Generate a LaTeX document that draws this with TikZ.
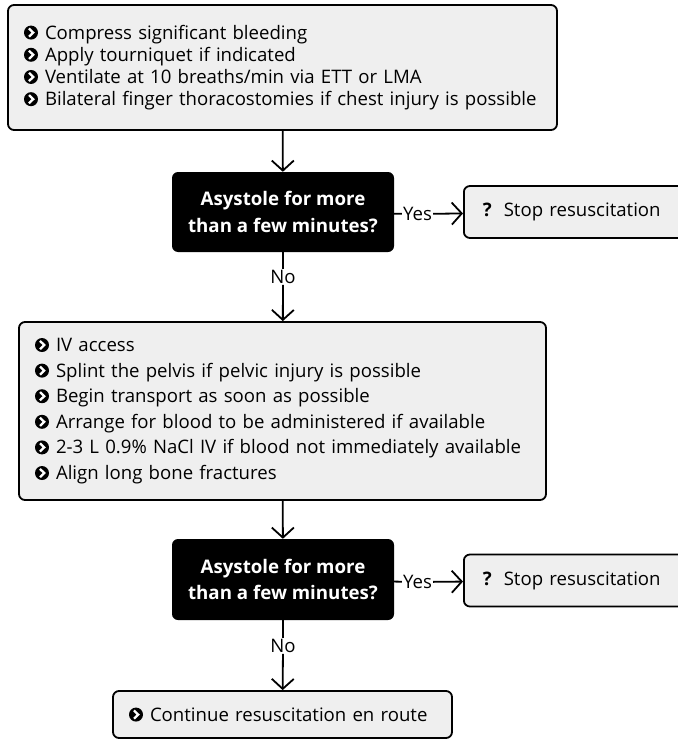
\documentclass[tikz,border=0pt]{standalone}
\usepackage{fontspec}
\setmainfont{Open Sans}
\usetikzlibrary{arrows.meta}
\definecolor{FCFill}{HTML}{EFEFEF}
\newcommand{\fcbullet}{\tikz[baseline=-6.5pt,sharp corners]{\fill[black] (0pt,0pt) circle[radius=7pt];
  \draw[white,line width=2.3pt,line join=miter] (-2pt,4.1pt) -- (2.2pt,0pt) -- (-2pt,-4.1pt);}\hspace{7pt}}

\tikzset{
  carebox/.style={draw=black,line width=1.8pt,fill=FCFill,rounded corners=6pt,align=left,
    inner xsep=16pt,inner ysep=0pt,font=\fontsize{18.6}{22.2}\selectfont},
  askbox/.style={fill=black,rounded corners=6pt,text=white,align=center,inner sep=0pt,
    minimum width=222pt,font=\fontsize{18.7}{26.5}\selectfont\bfseries},
  stopbox/.style={carebox,anchor=west,minimum width=227pt,minimum height=52pt,text width=189pt,inner xsep=19pt},
  flow/.style={line width=1.8pt,-{Straight Barb[length=10pt,width=22pt,line width=1.8pt]}},
  link/.style={line width=1.8pt},
  lbl/.style={inner sep=1pt,font=\fontsize{18.6}{20}\selectfont}
}

\begin{document}
\begin{tikzpicture}[x=1pt,y=-1pt]
\path[use as bounding box] (0,0) rectangle (677,741);
\fill[white] (0,0) rectangle (677,741);
\node[carebox,minimum width=549pt,minimum height=125pt,text width=517pt] (care1) at (282.5,67.5)
  {\fcbullet Compress significant bleeding\\
   \fcbullet Apply tourniquet if indicated\\
   \fcbullet Ventilate at 10 breaths/min via ETT or LMA\\
   \fcbullet Bilateral finger thoracostomies if chest injury is possible};
\node[askbox,minimum height=80pt] (ask1) at (283,212) {Asystole for more\\than a few minutes?};
\node[stopbox] (stop1) at (463,212) {\textbf{?}\hspace{12pt}Stop resuscitation};
\node[lbl] (yes1) at (417.5,214) {Yes};
\node[lbl] (no1) at (283,277) {No};
\node[carebox,minimum width=527pt,minimum height=178pt,text width=495pt,font=\fontsize{18.6}{25.6}\selectfont] (care2) at (282.5,411)
  {\fcbullet IV access\\
   \fcbullet Splint the pelvis if pelvic injury is possible\\
   \fcbullet Begin transport as soon as possible\\
   \fcbullet Arrange for blood to be administered if available\\
   \fcbullet 2-3 L 0.9\% NaCl IV if blood not immediately available\\
   \fcbullet Align long bone fractures};
\node[askbox,minimum height=81pt] (ask2) at (283,579.5) {Asystole for more\\than a few minutes?};
\node[stopbox] (stop2) at (463,580.5) {\textbf{?}\hspace{12pt}Stop resuscitation};
\node[lbl] (yes2) at (417.5,582) {Yes};
\node[lbl] (no2) at (283,646) {No};
\node[carebox,minimum width=339pt,minimum height=47pt,text width=307pt] (care3) at (282.5,714.5)
  {\fcbullet Continue resuscitation en route};
\draw[flow] (care1) -- (ask1);
\draw[link] (ask1) -- (yes1);
\draw[flow] (yes1) -- (stop1);
\draw[link] (ask1) -- (no1);
\draw[flow] (no1) -- (care2);
\draw[flow] (care2) -- (ask2);
\draw[link] (ask2) -- (yes2);
\draw[flow] (yes2) -- (stop2);
\draw[link] (ask2) -- (no2);
\draw[flow] (no2) -- (care3);
\end{tikzpicture}
\end{document}
